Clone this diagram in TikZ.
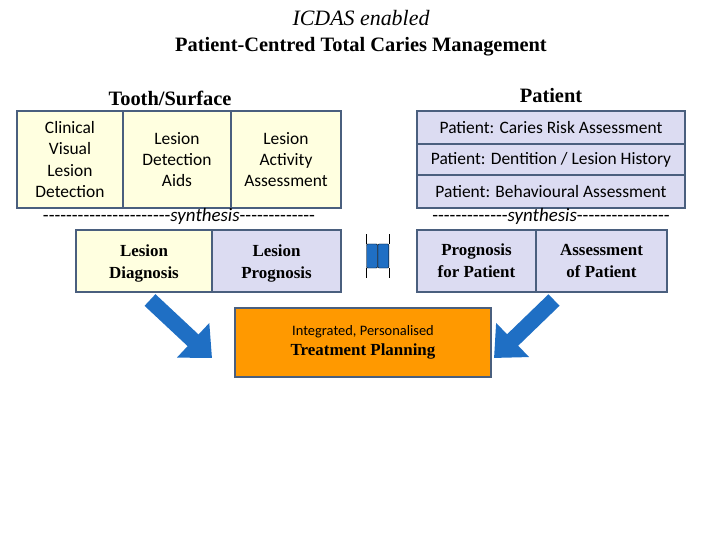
\documentclass[tikz,border=0pt]{standalone}
\usepackage{fontspec}
\setmainfont{Liberation Serif}
\newfontfamily\calib{Carlito}
\usetikzlibrary{arrows.meta,positioning,calc}
\definecolor{paleyel}{HTML}{FFFFE0}
\definecolor{lavend}{HTML}{DCDCF2}
\definecolor{boxline}{HTML}{4A5F7E}
\definecolor{orng}{HTML}{FF9900}
\definecolor{arrblue}{HTML}{1F6FC4}
\tikzset{
  cell/.style={draw=boxline, line width=2.2pt, align=center, inner sep=0pt, font=\calib\fontsize{17.5}{21.5}\selectfont},
  ycell/.style={cell, fill=paleyel},
  lcell/.style={cell, fill=lavend},
  bcell/.style={cell, font=\bfseries\fontsize{17}{22}\selectfont},
  synth/.style={font=\calib\fontsize{19}{20}\selectfont},
  bigarrow/.style={line width=16pt, draw=arrblue, -{Triangle[length=26pt,width=46pt]}}
}
\begin{document}
\begin{tikzpicture}[x=1bp, y=-1bp]
\useasboundingbox (0,0) rectangle (720,540);
% titles
\node[font=\itshape\fontsize{22}{24}\selectfont] (t1) at (361,18) {ICDAS enabled};
\node[font=\bfseries\fontsize{20.5}{24}\selectfont] (t2) at (361,47) {Patient-Centred Total Caries Management};
\node[font=\bfseries\fontsize{20.5}{24}\selectfont] (tooth) at (170,98) {Tooth/Surface};
\node[font=\bfseries\fontsize{20.5}{24}\selectfont] (pat) at (551,96) {Patient};
% tooth / surface
\node[ycell, minimum width=106bp, minimum height=97bp] (clin) at (70,159.5) {Clinical\\Visual\\Lesion\\Detection};
\node[ycell, minimum width=108bp, minimum height=97bp] (aids) at (177,159.5) {Lesion\\Detection\\Aids};
\node[ycell, minimum width=110bp, minimum height=97bp] (act) at (286,159.5) {Lesion\\Activity\\Assessment};
% patient
\node[lcell, minimum width=268bp, minimum height=33bp] (risk) at (551,127.5) {Patient: Caries Risk Assessment};
\node[lcell, minimum width=268bp, minimum height=31bp] (hist) at (551,159.5) {Patient: Dentition / Lesion History};
\node[lcell, minimum width=268bp, minimum height=33bp] (behav) at (551,191.5) {Patient: Behavioural Assessment};
% synthesis
\node[synth] (syn1) at (179,216) {----------------------\textit{synthesis}-------------};
\node[synth] (syn2) at (551,216) {-------------\textit{synthesis}----------------};
% outcome boxes
\node[bcell, fill=paleyel, minimum width=136bp, minimum height=62bp] (diag) at (144,261) {\rule{0pt}{17pt}Lesion\\Diagnosis};
\node[bcell, fill=lavend, minimum width=129bp, minimum height=62bp] (prog) at (276.5,261) {\rule{0pt}{17pt}Lesion\\Prognosis};
\node[bcell, fill=lavend, minimum width=119bp, minimum height=62bp] (pprog) at (476.5,261) {Prognosis\\for Patient};
\node[bcell, fill=lavend, minimum width=131bp, minimum height=62bp] (passm) at (601.5,261) {Assessment\\of Patient};
% link symbol
\node[draw=black, fill=arrblue, minimum width=11bp, minimum height=24bp, inner sep=0pt, rounded corners=1pt] (lk1) at (372,256) {};
\node[draw=black, fill=arrblue, minimum width=11bp, minimum height=24bp, inner sep=0pt, rounded corners=1pt, right=0pt of lk1] (lk2) {};
\draw (lk1.north west) -- ++(0,-10) (lk2.north east) -- ++(0,-10);
\draw (lk1.south west) -- ++(0,10) (lk2.south east) -- ++(0,10);
% treatment planning
\node[draw=boxline, line width=2.2pt, fill=orng, minimum width=256bp, minimum height=69bp, align=center] (plan) at (363,342.5)
  {{\calib\fontsize{14.5}{18}\selectfont Integrated, Personalised}\\[5pt]{\bfseries\fontsize{17}{20}\selectfont Treatment Planning}};
% arrows
\coordinate (la) at (150,300);
\coordinate (lb) at (212,358);
\coordinate (ra) at (554,300);
\coordinate (rb) at (494,358);
\draw[bigarrow] (la) -- (lb);
\draw[bigarrow] (ra) -- (rb);
\end{tikzpicture}
\end{document}
